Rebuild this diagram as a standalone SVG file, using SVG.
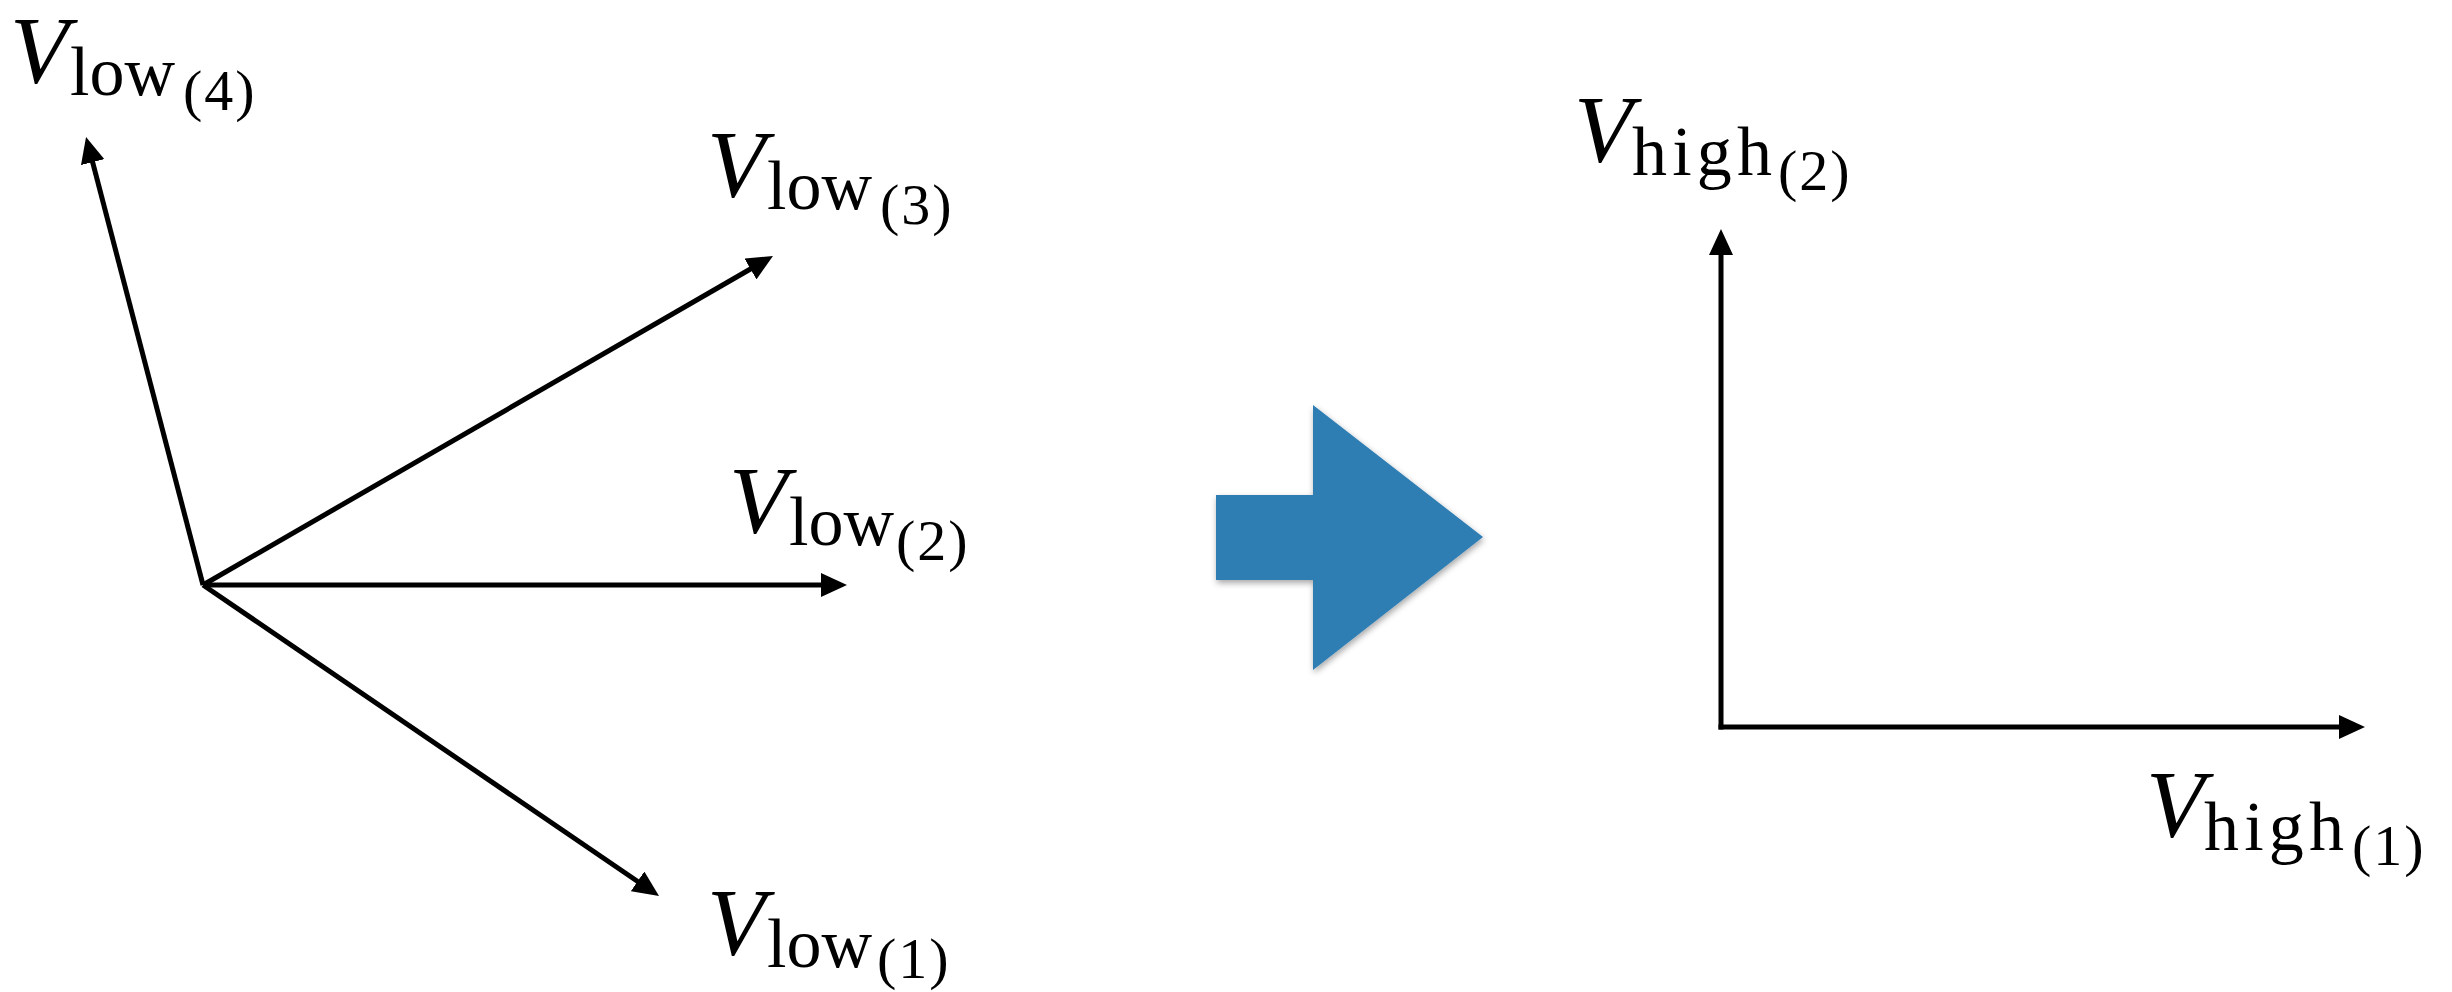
<svg xmlns="http://www.w3.org/2000/svg" width="2452" height="992" viewBox="0 0 2452 992">
<style>
.V{font-family:"Liberation Serif",serif;font-style:italic;font-size:96px;fill:#000}
.s1{font-family:"Liberation Serif",serif;font-size:70px;fill:#000}
.s2{font-family:"Liberation Serif",serif;font-size:58px;fill:#000;letter-spacing:2px}
.ln{stroke:#000;stroke-width:5;fill:none;marker-end:url(#ah)}
</style>
<defs>
<marker id="ah" markerUnits="userSpaceOnUse" viewBox="0 -12 26 24" markerWidth="26" markerHeight="24" refX="2" refY="0" orient="auto">
<path d="M0,-12 L26,0 L0,12 z" fill="#000"/>
</marker>
<filter id="sh" x="-20%" y="-20%" width="140%" height="140%">
<feDropShadow dx="1" dy="3" stdDeviation="3" flood-color="#000" flood-opacity="0.35"/>
</filter>
</defs>
<rect width="2452" height="992" fill="#fff"/>
<g id="connectors">
<line class="ln" x1="203" y1="585" x2="92.1" y2="160.2"/>
<line class="ln" x1="203" y1="585" x2="752.2" y2="268"/>
<line class="ln" x1="203" y1="585" x2="823" y2="585"/>
<line class="ln" x1="203" y1="585" x2="639.2" y2="882.5"/>
<line class="ln" x1="1721" y1="729.5" x2="1721" y2="253"/>
<line class="ln" x1="1718.5" y1="727" x2="2341" y2="727"/>
</g>
<g id="transform-arrow">
<polygon points="1216,495 1313,495 1313,405 1483,537 1313,670 1313,580 1216,580" fill="#2e7eb4" filter="url(#sh)"/>
</g>
<g id="vlow4">
<text class="V" x="10" y="83">V</text>
<text class="s1" x="70" y="95">low</text>
<text class="s2" x="183" y="110">(4)</text>
</g>
<g id="vlow3">
<text class="V" x="707" y="197">V</text>
<text class="s1" x="767" y="209">low</text>
<text class="s2" x="880" y="224">(3)</text>
</g>
<g id="vlow2">
<text class="V" x="729" y="533">V</text>
<text class="s1" x="789" y="545">low</text>
<text class="s2" x="896" y="560">(2)</text>
</g>
<g id="vlow1">
<text class="V" x="707" y="955">V</text>
<text class="s1" x="767" y="967">low</text>
<text class="s2" x="877" y="978">(1)</text>
</g>
<g id="vhigh2">
<text class="V" x="1574" y="162">V</text>
<text class="s1" x="1632" y="175" textLength="140" lengthAdjust="spacing">high</text>
<text class="s2" x="1778" y="190">(2)</text>
</g>
<g id="vhigh1">
<text class="V" x="2146" y="837">V</text>
<text class="s1" x="2204" y="850" textLength="140" lengthAdjust="spacing">high</text>
<text class="s2" x="2352" y="865">(1)</text>
</g>
</svg>
